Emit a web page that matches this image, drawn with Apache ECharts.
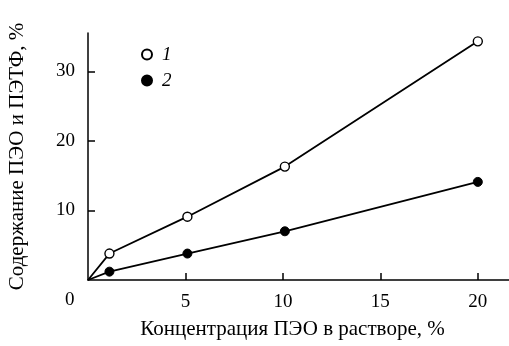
<!DOCTYPE html>
<html>
<head>
<meta charset="utf-8">
<script src="https://cdn.jsdelivr.net/npm/echarts@6/dist/echarts.min.js"></script>
<style>
  html, body { margin: 0; padding: 0; background: #fff; }
  #chart { width: 509px; height: 346px; }
</style>
</head>
<body>
<div id="chart"></div>
<script>
// Concentration of PEO in solution, %
const concentration1 = [0, 1.1, 5.1, 10.1, 20];
const content1 = [0, 3.8, 9.1, 16.3, 34.3];   // series 1 (open circles)
const concentration2 = [0, 1.1, 5.1, 10.1, 20];
const content2 = [0, 1.2, 3.8, 7.0, 14.1];    // series 2 (filled circles)
const seriesNames = ['1', '2'];
const xTicks = [5, 10, 15, 20];
const yTicks = [10, 20, 30];

const FONT = '"Liberation Serif", "DejaVu Serif", serif';

function toPoints(xs, ys) {
  // the origin point only anchors the line, no marker
  return xs.map((x, i) => i === 0
    ? { value: [x, ys[i]], symbol: 'none' }
    : { value: [x, ys[i]] });
}

const chart = echarts.init(document.getElementById('chart'), null, { renderer: 'canvas' });

chart.setOption({
  animation: false,
  backgroundColor: '#fff',
  grid: { left: 88, right: 0, top: 33, bottom: 66, containLabel: false, outerBoundsMode: 'none' },
  legend: {
    orient: 'vertical',
    left: 136,
    top: 40,
    itemWidth: 10,
    itemHeight: 10,
    itemGap: 7,
    icon: 'circle',
    data: seriesNames,
    textStyle: { fontFamily: FONT, fontSize: 19, fontStyle: 'italic', color: '#000', padding: [0, 0, 0, 5] }
  },
  xAxis: {
    type: 'value',
    min: 0,
    max: 21.6,
    interval: 5,
    name: 'Концентрация ПЭО в растворе, %',
    nameLocation: 'middle',
    nameGap: 39,
    nameTextStyle: { fontFamily: FONT, fontSize: 21, color: '#000', padding: [0, 12, 0, 0] },
    axisLine: { lineStyle: { color: '#000', width: 1.5 } },
    axisTick: { inside: true, length: 7, customValues: xTicks, lineStyle: { color: '#000', width: 1.5 } },
    axisLabel: { fontFamily: FONT, fontSize: 19, color: '#000', margin: 13, customValues: xTicks },
    splitLine: { show: false }
  },
  yAxis: {
    type: 'value',
    min: 0,
    max: 35.5,
    interval: 10,
    name: 'Содержание ПЭО и ПЭТФ, %',
    nameLocation: 'middle',
    nameGap: 60,
    nameTextStyle: { fontFamily: FONT, fontSize: 21, color: '#000' },
    axisLine: { show: true, lineStyle: { color: '#000', width: 1.5 } },
    axisTick: { show: true, inside: true, length: 7, customValues: yTicks, lineStyle: { color: '#000', width: 1.5 } },
    axisLabel: { fontFamily: FONT, fontSize: 19, color: '#000', margin: 13, customValues: yTicks },
    splitLine: { show: false }
  },
  graphic: [{
    type: 'text',
    left: 65,
    top: 291,
    style: { text: '0', font: '19px ' + FONT, fill: '#000' }
  }],
  series: [
    {
      name: seriesNames[0],
      type: 'line',
      data: toPoints(concentration1, content1),
      symbol: 'circle',
      symbolSize: 9,
      showAllSymbol: true,
      lineStyle: { color: '#000', width: 1.8 },
      itemStyle: { color: '#fff', borderColor: '#000', borderWidth: 1.4 },
      z: 3
    },
    {
      name: seriesNames[1],
      type: 'line',
      data: toPoints(concentration2, content2),
      symbol: 'circle',
      symbolSize: 9,
      showAllSymbol: true,
      lineStyle: { color: '#000', width: 1.8 },
      itemStyle: { color: '#000', borderColor: '#000', borderWidth: 1 },
      z: 3
    }
  ]
});
</script>
</body>
</html>
